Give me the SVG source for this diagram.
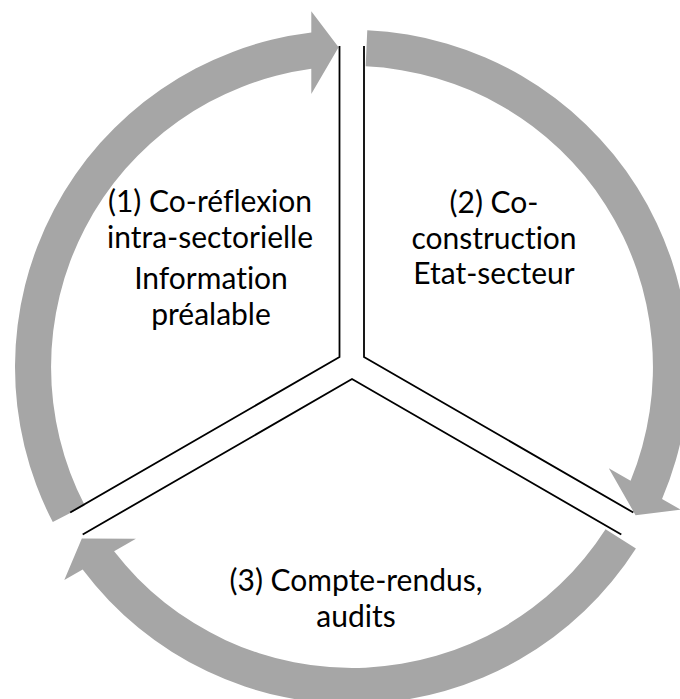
<svg xmlns="http://www.w3.org/2000/svg" width="680" height="699" viewBox="0 0 680 699">
<style>
.arrow{fill:#a6a6a6;stroke:none}
.edge{fill:none;stroke:#000;stroke-width:1.8;stroke-linejoin:miter}
.lbl{font-family:Lato,"Liberation Sans",Arial,sans-serif;font-size:30px;fill:#000;text-anchor:middle;font-variant-ligatures:none;font-feature-settings:"liga" 0}
</style>
<defs>
<path id="carrow" d="M52.8 522.1 A337 337 0 0 1 311.3 32.5 L311.3 11.3 L338.6 47.3 L311.3 94.0 L311.3 68.8 A301 301 0 0 0 84.8 505.5 Z"/>
</defs>
<rect width="680" height="699" fill="#fff"/>
<g id="connectors">
<use href="#carrow" class="arrow"/>
<use href="#carrow" class="arrow" transform="rotate(120 352 367)"/>
<use href="#carrow" class="arrow" transform="rotate(240 352 367)"/>
</g>
<g id="sector1">
<path class="edge" d="M339.5 46 L339.5 357 L70.2 512.5"/>
<text class="lbl" x="210" y="212">(1) Co-réflexion</text>
<text class="lbl" x="210" y="248">intra-sectorielle</text>
<text class="lbl" x="211" y="289">Information</text>
<text class="lbl" x="211" y="325">préalable</text>
</g>
<g id="sector2">
<path class="edge" d="M364 46 L364 357 L633.3 512.5"/>
<text class="lbl" x="494" y="213">(2) Co-</text>
<text class="lbl" x="494" y="249">construction</text>
<text class="lbl" x="494" y="284">Etat-secteur</text>
</g>
<g id="sector3">
<path class="edge" d="M82.7 534.5 L352 379 L621.3 534.5"/>
<text class="lbl" x="356" y="591">(3) Compte-rendus,</text>
<text class="lbl" x="356" y="627">audits</text>
</g>
</svg>
